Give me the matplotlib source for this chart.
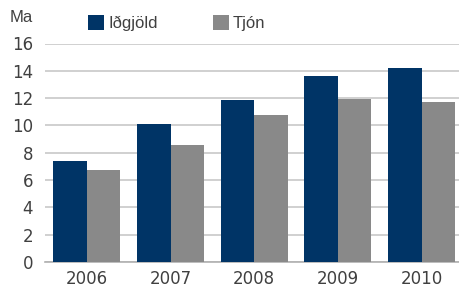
import matplotlib
matplotlib.use("Agg")
import matplotlib.pyplot as plt
import numpy as np

plt.rcParams['font.family'] = ['Liberation Sans', 'DejaVu Sans']

years = ['2006', '2007', '2008', '2009', '2010']
idgjold = [7.4, 10.1, 11.85, 13.65, 14.2]   # Iðgjöld
tjon = [6.75, 8.55, 10.75, 11.95, 11.7]     # Tjón

blue = '#003466'
grey = '#898989'
txt = '#404040'

fig = plt.figure(figsize=(4.6, 2.87), dpi=100)
ax = fig.add_axes([45/460, 25/287, 1 - 45/460, (262 - 43.5)/287])

x = np.arange(len(years))
w = 0.4
ax.bar(x - w/2, idgjold, w, color=blue, label='Iðgjöld', zorder=3)
ax.bar(x + w/2, tjon, w, color=grey, label='Tjón', zorder=3)

ax.set_xlim(-0.5, 4.5 - 3.5/83.7)
ax.set_ylim(0, 16)
ax.set_yticks(range(0, 17, 2))
ax.set_xticks(x)
ax.set_xticklabels(years)
ax.yaxis.grid(True, color='#c8c8c8', linewidth=1.2, zorder=0)
ax.set_axisbelow(True)
for s in ['top', 'right', 'left']:
    ax.spines[s].set_visible(False)
ax.spines['bottom'].set_color('#b0b0b0')
ax.spines['bottom'].set_linewidth(1.2)
ax.tick_params(axis='both', length=0, labelsize=12, colors=txt)
ax.tick_params(axis='y', pad=8.5)
ax.tick_params(axis='x', pad=6)
for lab in ax.get_yticklabels() + ax.get_xticklabels():
    lab.set_family('DejaVu Sans')
    lab.set_clip_on(False)

fig.text(10/460, 1 - 18/287, 'Ma', fontsize=12, color=txt, va='center', ha='left')

ax.legend(loc='center left', bbox_to_anchor=(88/460, 1 - 23/287),
          bbox_transform=fig.transFigure, ncol=2, frameon=False,
          fontsize=12, handlelength=0.96, handleheight=0.96,
          handletextpad=0.25, columnspacing=3.3, labelcolor=txt,
          borderpad=0, borderaxespad=0)

fig.savefig('out.png', dpi=100)
